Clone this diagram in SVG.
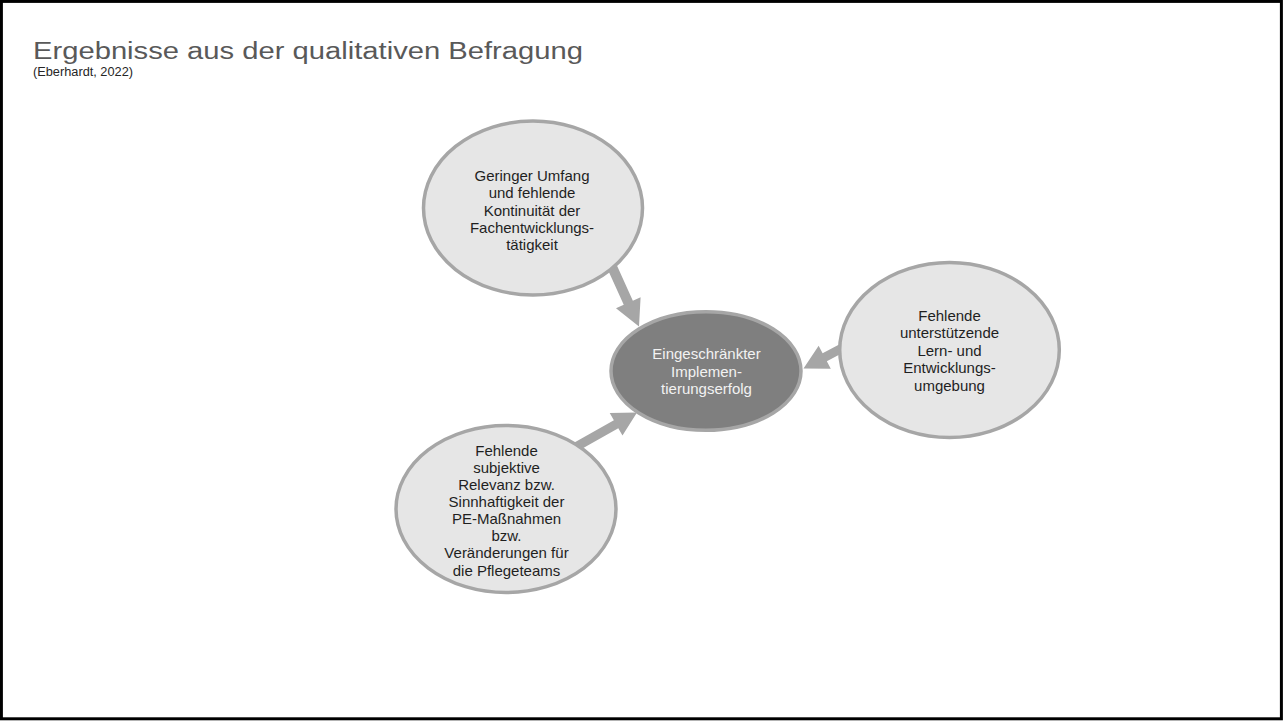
<svg xmlns="http://www.w3.org/2000/svg" width="1283" height="722" viewBox="0 0 1283 722">
<style>
.node{fill:#e6e6e6;stroke:#a6a6a6;stroke-width:3.5}
.core{fill:#7f7f7f;stroke:#a6a6a6;stroke-width:3.5}
.lbl{font-family:"Liberation Sans",Arial,sans-serif;font-size:15px;fill:#1f1f1f;text-anchor:middle}
.lbl-core{font-family:"Liberation Sans",Arial,sans-serif;font-size:15px;fill:#f2f2f2;text-anchor:middle}
.arrow{fill:#a6a6a6;stroke:none}
</style>
<rect x="0" y="0" width="1283" height="722" fill="#ffffff"/>
<rect x="1.4" y="1.4" width="1280" height="717.4" fill="none" stroke="#000000" stroke-width="3"/>
<text x="33" y="59.3" font-family="'Liberation Sans',Arial,sans-serif" font-size="23" fill="#595959" textLength="550" lengthAdjust="spacingAndGlyphs">Ergebnisse aus der qualitativen Befragung</text>
<text x="33" y="75.5" font-family="'Liberation Sans',Arial,sans-serif" font-size="12" fill="#262626" textLength="100" lengthAdjust="spacingAndGlyphs">(Eberhardt, 2022)</text>
<g id="connectors">
<polygon class="arrow" points="599.45,251.09 623.74,304.86 616.00,308.36 639,326.5 640.60,297.24 632.86,300.74 608.57,246.97"/>
<polygon class="arrow" points="863.27,331.76 822.61,353.29 818.64,345.78 803.5,368.5 830.80,368.76 826.83,361.25 867.49,339.72"/>
<polygon class="arrow" points="569.53,455.70 618.31,428.20 622.48,435.60 637,412.5 609.72,412.96 613.89,420.36 565.11,447.86"/>
</g>
<g id="node-top">
<ellipse class="node" cx="533" cy="208" rx="109.5" ry="87"/>
<text class="lbl" x="532" y="181">Geringer Umfang</text>
<text class="lbl" x="532" y="198.3">und fehlende</text>
<text class="lbl" x="532" y="215.6">Kontinuität der</text>
<text class="lbl" x="532" y="232.9">Fachentwicklungs-</text>
<text class="lbl" x="532" y="250.2">tätigkeit</text>
</g>
<g id="node-right">
<ellipse class="node" cx="949.5" cy="350" rx="109.8" ry="87.5"/>
<text class="lbl" x="949.5" y="320.5">Fehlende</text>
<text class="lbl" x="949.5" y="338">unterstützende</text>
<text class="lbl" x="949.5" y="355.5">Lern- und</text>
<text class="lbl" x="949.5" y="373">Entwicklungs-</text>
<text class="lbl" x="949.5" y="390.5">umgebung</text>
</g>
<g id="node-bottom">
<ellipse class="node" cx="506" cy="509" rx="110" ry="83.5"/>
<text class="lbl" x="506.5" y="455.5">Fehlende</text>
<text class="lbl" x="506.5" y="472.6">subjektive</text>
<text class="lbl" x="506.5" y="489.8">Relevanz bzw.</text>
<text class="lbl" x="506.5" y="506.9">Sinnhaftigkeit der</text>
<text class="lbl" x="506.5" y="524.1">PE-Maßnahmen</text>
<text class="lbl" x="506.5" y="541.2">bzw.</text>
<text class="lbl" x="506.5" y="558.3">Veränderungen für</text>
<text class="lbl" x="506.5" y="575.5">die Pflegeteams</text>
</g>
<g id="node-center">
<ellipse class="core" cx="706" cy="371" rx="95" ry="59.3"/>
<text class="lbl-core" x="706.5" y="359">Eingeschränkter</text>
<text class="lbl-core" x="706.5" y="376.5">Implemen-</text>
<text class="lbl-core" x="706.5" y="394">tierungserfolg</text>
</g>
</svg>
